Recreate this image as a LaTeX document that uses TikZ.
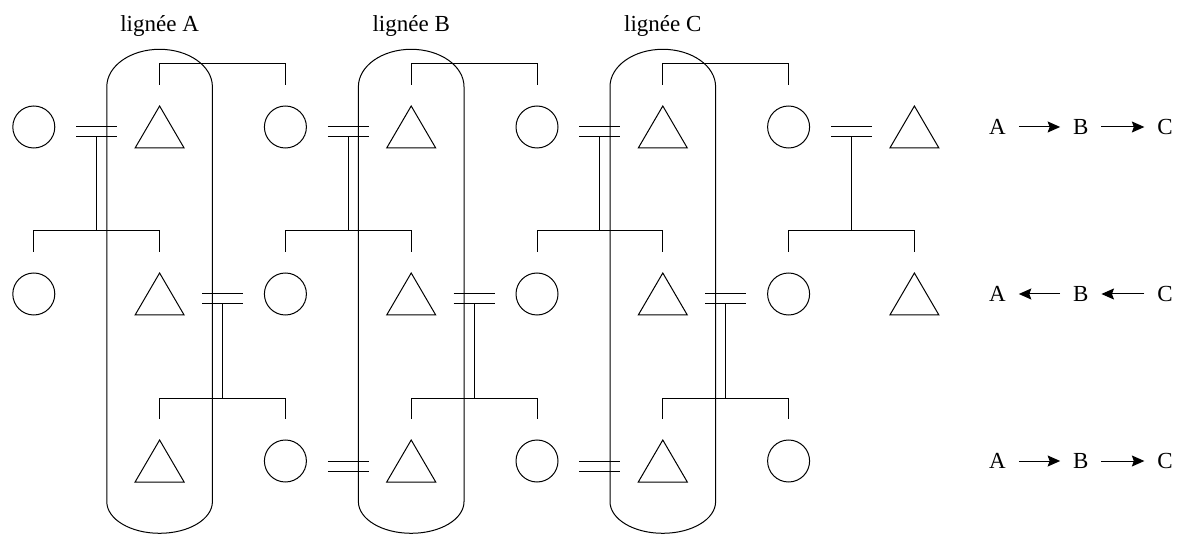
\documentclass[tikz,border=0pt]{standalone}
\usepackage{fontspec}
\setmainfont{Liberation Serif}
\usetikzlibrary{calc,arrows.meta}
\begin{document}
\begin{tikzpicture}[x=1pt,y=-1pt, line width=1pt,
  font=\fontsize{23}{27}\selectfont,
  female/.style={circle, draw, minimum size=42pt, inner sep=0pt, outer sep=0pt},
  malebox/.style={rectangle, minimum width=49pt, minimum height=42pt, inner sep=0pt, outer sep=0pt},
  marriage/.style={shorten <=42.4pt, shorten >=42.4pt},
  letter/.style={inner sep=0pt, outer sep=0pt},
  arr/.style={-{Stealth[length=12.5pt,width=11pt,inset=2pt]}, shorten <=13pt, shorten >=13pt}]
\useasboundingbox (0,0) rectangle (1181,537);

% persons
\foreach \r/\y in {1/127,2/294}{
  \foreach \c in {0,...,7}{
    \pgfmathsetmacro\xx{33.8+125.8*\c}
    \ifodd\c
      \node[malebox] (n-\c-\r) at (\xx,\y) {};
      \draw (n-\c-\r.north) -- (n-\c-\r.south west) -- (n-\c-\r.south east) -- cycle;
    \else
      \node[female] (n-\c-\r) at (\xx,\y) {};
    \fi
  }
}
\foreach \c in {1,...,6}{
  \pgfmathsetmacro\xx{33.8+125.8*\c}
  \ifodd\c
    \node[malebox] (n-\c-3) at (\xx,461) {};
    \draw (n-\c-3.north) -- (n-\c-3.south west) -- (n-\c-3.south east) -- cycle;
  \else
    \node[female] (n-\c-3) at (\xx,461) {};
  \fi
}

% marriages with descent (row r -> row r+1)
\foreach \a/\b/\r/\s in {0/1/1/2, 2/3/1/2, 4/5/1/2, 6/7/1/2, 1/2/2/3, 3/4/2/3, 5/6/2/3}{
  \draw[marriage] (n-\a-\r.center) -- (n-\b-\r.center);
  \draw[marriage] ([yshift=-10pt]n-\a-\r.center) -- ([yshift=-10pt]n-\b-\r.center);
  \draw ($(n-\a-\r.center)!0.5!(n-\b-\r.center)+(0pt,-10pt)$) -- ++(0pt,-94pt);
  \draw ([yshift=21pt]n-\a-\s.north) -- ++(0pt,21pt) -| ([yshift=21pt]n-\b-\s.north);
}
% marriages without descent (row 3)
\foreach \a/\b in {2/3, 4/5}{
  \draw[marriage] (n-\a-3.center) -- (n-\b-3.center);
  \draw[marriage] ([yshift=-10pt]n-\a-3.center) -- ([yshift=-10pt]n-\b-3.center);
}
% sibling brackets on row 1
\foreach \a/\b in {1/2, 3/4, 5/6}{
  \draw ([yshift=21pt]n-\a-1.north) -- ++(0pt,21pt) -| ([yshift=21pt]n-\b-1.north);
}

% lineage capsules
\foreach \c in {1,3,5}{
  \pgfmathsetmacro\xx{33.8+125.8*\c}
  \draw (\xx+52.8,86.7) arc[start angle=0, end angle=180, x radius=52.8pt, y radius=37.4pt]
        -- (\xx-52.8,501.7) arc[start angle=180, end angle=360, x radius=52.8pt, y radius=31.6pt]
        -- cycle;
}
\node[anchor=base] (lab-A) at (159.6,31.7) {lignée A};
\node[anchor=base] (lab-B) at (411.2,31.7) {lignée B};
\node[anchor=base] (lab-C) at (662.8,31.7) {lignée C};

% direction legend
\foreach \r/\y in {1/127,2/294,3/461}{
  \node[letter] (A-\r) at (997.5,\y) {A};
  \node[letter] (B-\r) at (1080.8,\y) {B};
  \node[letter] (C-\r) at (1165,\y) {C};
}
\draw[arr] (A-1) -- (B-1);
\draw[arr] (B-1) -- (C-1);
\draw[arr] (B-2) -- (A-2);
\draw[arr] (C-2) -- (B-2);
\draw[arr] (A-3) -- (B-3);
\draw[arr] (B-3) -- (C-3);
\end{tikzpicture}
\end{document}
